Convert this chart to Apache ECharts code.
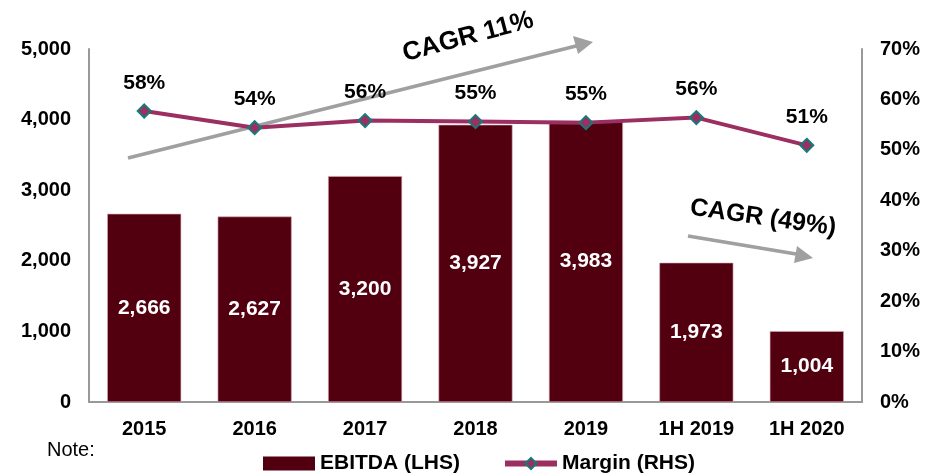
<!DOCTYPE html>
<html>
<head>
<meta charset="utf-8">
<script src="https://cdn.jsdelivr.net/npm/echarts@6/dist/echarts.min.js"></script>
<style>
  html, body { margin: 0; padding: 0; background: #fff; }
  #main { width: 927px; height: 475px; }
</style>
</head>
<body>
<div id="main"></div>
<script>
var categories = ["2015", "2016", "2017", "2018", "2019", "1H 2019", "1H 2020"];
var ebitda = [2666, 2627, 3200, 3927, 3983, 1973, 1004];
var margin = [57.7, 54.4, 55.8, 55.6, 55.4, 56.4, 50.9];
var marginLabels = ["58%", "54%", "56%", "55%", "55%", "56%", "51%"];

var font = "Liberation Sans, Arial, sans-serif";
var myChart = echarts.init(document.getElementById("main"));

var option = {
  animation: false,
  textStyle: { fontFamily: font },
  grid: { left: 89, right: 65, top: 49, bottom: 73 },
  legend: {
    bottom: -4,
    left: 258,
    itemGap: 42,
    itemWidth: 52,
    itemHeight: 14,
    textStyle: { fontSize: 21, fontWeight: "bold", color: "#000", fontFamily: font },
    data: [
      { name: "EBITDA (LHS)", icon: "rect", itemStyle: { borderWidth: 0 } },
      { name: "Margin (RHS)", lineStyle: { width: 6 } }
    ]
  },
  xAxis: {
    type: "category",
    data: categories,
    axisLine: { lineStyle: { color: "#999", width: 2 } },
    axisTick: { show: false },
    axisLabel: { fontSize: 20, fontWeight: "bold", color: "#000", margin: 17 }
  },
  yAxis: [
    {
      type: "value",
      min: 0,
      max: 5000,
      interval: 1000,
      splitLine: { show: false },
      axisLine: { show: true, lineStyle: { color: "#999", width: 2 } },
      axisLabel: {
        fontSize: 20, fontWeight: "bold", color: "#000", margin: 18,
        formatter: function (v) { return v.toLocaleString("en-US"); }
      }
    },
    {
      type: "value",
      min: 0,
      max: 70,
      interval: 10,
      splitLine: { show: false },
      axisLine: { show: true, lineStyle: { color: "#999", width: 2 } },
      axisLabel: { fontSize: 20, fontWeight: "bold", color: "#000", margin: 18, formatter: "{value}%" }
    }
  ],
  series: [
    {
      name: "EBITDA (LHS)",
      type: "bar",
      data: ebitda,
      barWidth: 74,
      itemStyle: { color: "#52000f", borderColor: "#d9a6b3", borderWidth: 0.6 },
      label: {
        show: true,
        position: "inside",
        color: "#fff",
        fontSize: 21,
        fontWeight: "bold",
        formatter: function (p) { return p.value.toLocaleString("en-US"); }
      }
    },
    {
      name: "Margin (RHS)",
      type: "line",
      yAxisIndex: 1,
      data: margin,
      symbol: "diamond",
      symbolSize: 13,
      lineStyle: { color: "#9b2f61", width: 4 },
      itemStyle: { color: "#9b2f61", borderColor: "#177a78", borderWidth: 2 },
      label: {
        show: true,
        position: "top",
        distance: 10,
        color: "#000",
        fontSize: 21,
        fontWeight: "bold",
        formatter: function (p) { return marginLabels[p.dataIndex]; }
      },
      z: 5
    }
  ],
  graphic: [
    {
      type: "line",
      shape: { x1: 128, y1: 158, x2: 580, y2: 45 },
      style: { stroke: "#a0a0a0", lineWidth: 3.5 }
    },
    {
      type: "polygon",
      shape: { points: [[593, 42], [573, 36], [578, 54]] },
      style: { fill: "#a0a0a0" }
    },
    {
      type: "text",
      x: 468, y: 37,
      rotation: 15 * Math.PI / 180,
      style: {
        text: "CAGR 11%", fontSize: 26, fontWeight: "bold", fontFamily: font,
        fill: "#000", align: "center", verticalAlign: "middle"
      }
    },
    {
      type: "line",
      shape: { x1: 688, y1: 236, x2: 796, y2: 254 },
      style: { stroke: "#a0a0a0", lineWidth: 3.5 }
    },
    {
      type: "polygon",
      shape: { points: [[813, 258], [797, 246], [794, 263]] },
      style: { fill: "#a0a0a0" }
    },
    {
      type: "text",
      x: 763, y: 218,
      rotation: -8 * Math.PI / 180,
      style: {
        text: "CAGR (49%)", fontSize: 25, fontWeight: "bold", fontFamily: font,
        fill: "#000", align: "center", verticalAlign: "middle"
      }
    },
    {
      type: "text",
      left: 47, top: 440,
      style: { text: "Note:", fontSize: 20, fontFamily: font, fill: "#000" }
    }
  ]
};

myChart.setOption(option);
</script>
</body>
</html>
